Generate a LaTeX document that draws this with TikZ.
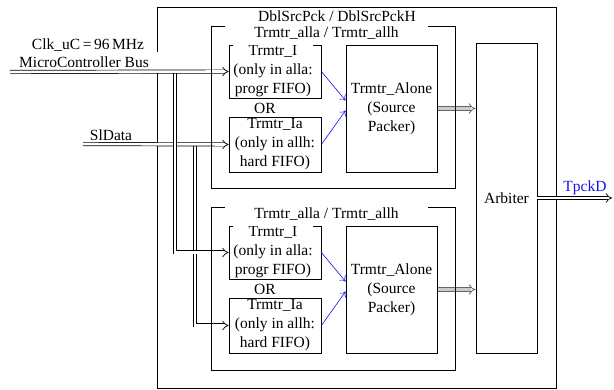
\documentclass[tikz,border=0pt]{standalone}
\usepackage{fontspec}
\setmainfont{Liberation Serif}
\usepackage{tikz}
\usetikzlibrary{arrows.meta}
\usetikzlibrary{backgrounds}
\definecolor{linkblue}{RGB}{20, 20, 235}

\tikzset{
  blk/.style   = {draw, line width=0.8pt, inner sep=0pt, align=center},
  cover/.style = {fill=white, inner sep=0.5pt, align=center},
  bus/.style   = {double, double distance=2.6pt, line width=0.7pt, -{Implies}},
  gbus/.style  = {draw=black!60, double=black!20, double distance=2.8pt, line width=0.8pt, -{Implies}},
  lnk/.style   = {linkblue, line width=0.6pt, -{To[length=5pt, width=8pt]}},
}

\begin{document}
\begin{tikzpicture}[x=1pt, y=-1pt, font=\fontsize{15.5}{19}\selectfont]
            \useasboundingbox (0,0) rectangle (614,390);
            % upper Trmtr_alla / Trmtr_allh
            \node[blk, minimum width=244pt, minimum height=162pt] (allA)   at (333.0,107.0) {};
            \node[blk, minimum width=92pt,  minimum height=53pt]  (trIA)   at (275.0, 71.5) {};
            \node[blk, minimum width=92pt,  minimum height=55pt]  (trIaA)  at (275.0,144.5) {Trmtr\_Ia\\(only in allh:\\hard FIFO)};
            \node[blk, minimum width=91pt,  minimum height=127pt] (aloneA) at (391.5,108.5) {Trmtr\_Alone\\(Source\\Packer)};
            \node[cover] (trItxtA) at ([xshift=-2pt]trIA.center) {Trmtr\_I\\(only in alla:\\progr FIFO)};
            \node        (orA)     at (265,108) {OR};
            \node[cover, minimum width=203pt, minimum height=19pt, text depth=7pt] (allAlbl) at (326.5,36) {Trmtr\_alla / Trmtr\_allh};
            % lower Trmtr_alla / Trmtr_allh
            \node[blk, minimum width=244pt, minimum height=163pt] (allB)   at (333.0,288.5) {};
            \node[blk, minimum width=92pt,  minimum height=53pt]  (trIB)   at (275.0,252.5) {};
            \node[blk, minimum width=92pt,  minimum height=55pt]  (trIaB)  at (275.0,325.5) {Trmtr\_Ia\\(only in allh:\\hard FIFO)};
            \node[blk, minimum width=91pt,  minimum height=127pt] (aloneB) at (391.5,289.5) {Trmtr\_Alone\\(Source\\Packer)};
            \node[cover] (trItxtB) at ([xshift=-2pt]trIB.center) {Trmtr\_I\\(only in alla:\\progr FIFO)};
            \node        (orB)     at (265,289) {OR};
            \node[cover, minimum width=203pt, minimum height=19pt, text depth=7pt] (allBlbl) at (326.5,217) {Trmtr\_alla / Trmtr\_allh};
            % Arbiter & output
            \node[blk, minimum width=61pt, minimum height=310pt] (arb) at (506.5,198) {Arbiter};
            \coordinate (tpout) at (612,198);
            \draw[bus] (arb.east) -- (tpout);
            \node[text=linkblue, anchor=base] (tpck) at (585,192) {TpckD};
            % FIFO -> packer links
            \draw[lnk] (trIA.east)  -- ([yshift=8pt]aloneA.west);
            \draw[lnk] (trIaA.east) -- ([yshift=-2pt]aloneA.west);
            \draw[lnk] (trIB.east)  -- ([yshift=8pt]aloneB.west);
            \draw[lnk] (trIaB.east) -- ([yshift=-2pt]aloneB.west);
            \begin{pgfonlayer}{background}
            % DblSrcPck frame
            \node[blk, minimum width=399pt, minimum height=381pt] (dbl) at (356.5,197.5) {};
            \node (dbllbl) at (337,16) {DblSrcPck / DblSrcPckH};
            % inputs
            \node (clk) at (88,45) {Clk\_uC\,=\,96\,MHz};
            \node[cover, minimum width=150pt, minimum height=19pt] (mcbus) at (84,62) {MicroController Bus};
            \node (sldata) at (111,135) {SlData};
            \coordinate (mcin)  at (10,72);
            \coordinate (slin)  at (83,144);
            \coordinate (mctap) at (175,72);
            \coordinate (sltap) at (195,144);
            \draw[bus] (sltap) |- (trIaB.west);
            \draw[bus] (slin) -- (trIaA.west);
            \draw[bus] (mctap) |- (trIB.west);
            \draw[bus] (mcin) -- (trIA.west);
            % packer -> arbiter
            \draw[gbus] (aloneA.east) -- (aloneA.east -| arb.west);
            \draw[gbus] (aloneB.east) -- (aloneB.east -| arb.west);
            \end{pgfonlayer}
\end{tikzpicture}
\end{document}
